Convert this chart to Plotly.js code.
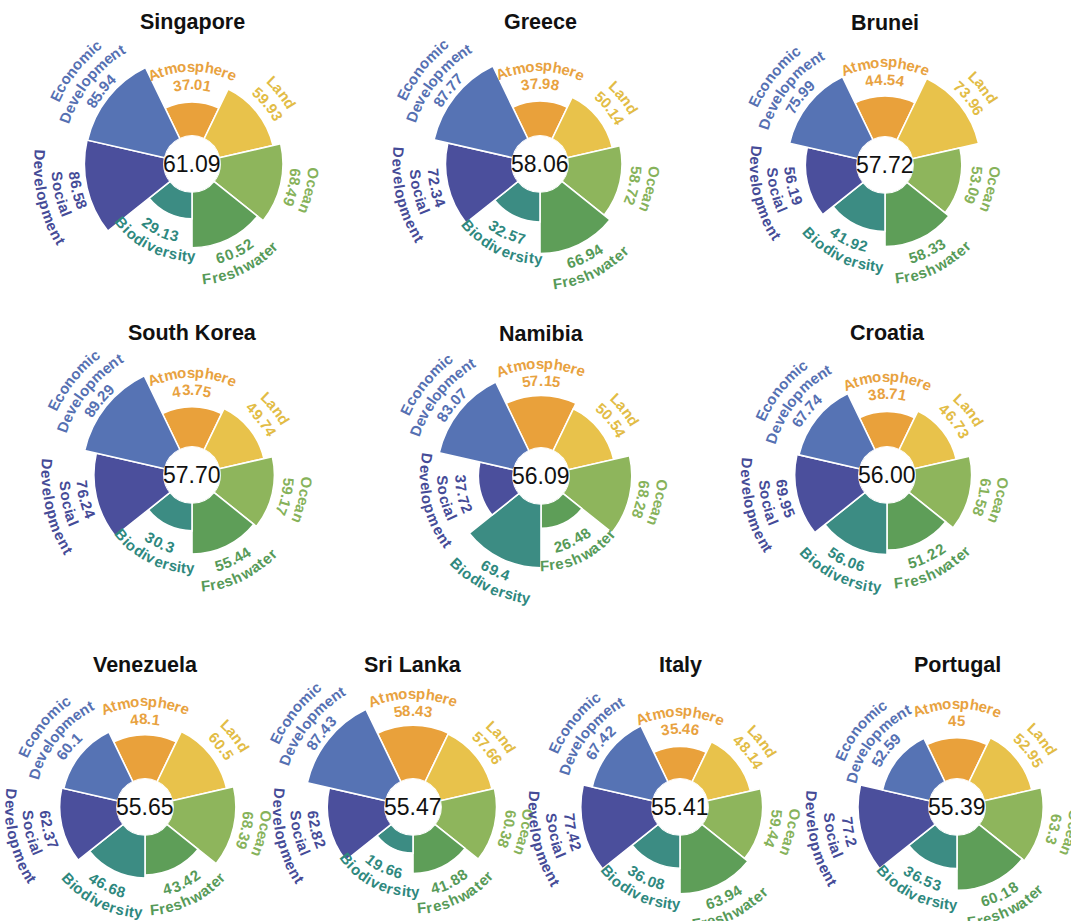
<!DOCTYPE html>
<html>
<head>
<meta charset="utf-8">
<script src="https://cdn.plot.ly/plotly-3.0.1.min.js"></script>
<style>html,body{margin:0;padding:0;background:#fff;}#chart{width:1071px;height:921px;}</style>
</head>
<body>
<div id="chart"></div>
<script>
// ---------------- data ----------------
const categories = ['Atmosphere', 'Land', 'Ocean', 'Freshwater', 'Biodiversity', 'Social Development', 'Economic Development'];
const countries = ['Singapore', 'Greece', 'Brunei', 'South Korea', 'Namibia', 'Croatia', 'Venezuela', 'Sri Lanka', 'Italy', 'Portugal'];
const scores = [61.09, 58.06, 57.72, 57.70, 56.09, 56.00, 55.65, 55.47, 55.41, 55.39];
const singapore  = [37.01, 59.93, 68.49, 60.52, 29.13, 86.58, 85.94];
const greece     = [37.98, 50.14, 58.72, 66.94, 32.57, 72.34, 87.77];
const brunei     = [44.54, 73.96, 53.09, 58.33, 41.92, 56.19, 75.99];
const southKorea = [43.75, 49.74, 59.17, 55.44, 30.3, 76.24, 89.29];
const namibia    = [57.15, 50.54, 68.28, 26.48, 69.4, 37.72, 83.07];
const croatia    = [38.71, 46.73, 61.58, 51.22, 56.06, 69.95, 67.74];
const venezuela  = [48.1, 60.5, 68.39, 43.42, 46.68, 62.37, 60.1];
const sriLanka   = [58.43, 57.66, 60.38, 41.88, 19.66, 62.82, 87.43];
const italy      = [35.46, 48.14, 59.44, 63.94, 36.08, 77.42, 67.42];
const portugal   = [45, 52.95, 63.3, 60.18, 36.53, 77.2, 52.59];
const seriesValues = [singapore, greece, brunei, southKorea, namibia, croatia, venezuela, sriLanka, italy, portugal];

// ---------------- styles ----------------
const barColors  = ['#E9A13B', '#E8C24B', '#8EB55C', '#5E9E58', '#3C8C83', '#4B4F9C', '#5673B4'];
const textColors = ['#E8A23F', '#E2BC45', '#86B25A', '#569A58', '#2E887E', '#454B97', '#5570B2'];
const W = 1071, H = 921;
const centers = [[192,164],[540,164],[885,165],[192,475],[541,476],[887,475],[145,807],[413,807],[680,807],[957,807]];
const RMAX = 90;          // radial axis range
const R_HOLE = 28;        // px
const PX_PER_UNIT = 0.92; // px per value unit
const R_OUT = R_HOLE + PX_PER_UNIT * RMAX;
const HOLE = R_HOLE / R_OUT;
const LABEL_SIZE = 15, SPACING = 1.04, LINE_H = 17.5;
const FONT_FAMILY = 'Liberation Sans, Arial, sans-serif';

const canvas = document.createElement('canvas');
const ctx = canvas.getContext('2d');
ctx.font = 'bold ' + LABEL_SIZE + "px 'Liberation Sans', Arial, sans-serif";

const data = [];
const layout = {
  width: W, height: H, margin: {l: 0, r: 0, t: 0, b: 0},
  paper_bgcolor: '#fff', showlegend: false, annotations: []
};

function toPaper(px, py) { return [px / W, 1 - py / H]; }

function addCurved(str, cx, cy, r, thetaDeg, flipped, color) {
  const chars = Array.from(str);
  const widths = chars.map(ch => ctx.measureText(ch).width * SPACING);
  const total = widths.reduce((a, b) => a + b, 0);
  const th = thetaDeg * Math.PI / 180;
  let cum = 0;
  chars.forEach((ch, i) => {
    const mid = cum + widths[i] / 2;
    cum += widths[i];
    if (ch === ' ') return;
    const off = (mid - total / 2) / r;
    const phi = flipped ? th + off : th - off;
    const px = cx + r * Math.cos(phi), py = cy - r * Math.sin(phi);
    let ang = (flipped ? -90 : 90) - phi * 180 / Math.PI;
    while (ang > 180) ang -= 360;
    while (ang <= -180) ang += 360;
    const p = toPaper(px, py);
    layout.annotations.push({
      xref: 'paper', yref: 'paper', x: p[0], y: p[1], text: ch, showarrow: false,
      textangle: ang, xanchor: 'center', yanchor: 'middle', borderpad: 0,
      font: {family: FONT_FAMILY, size: LABEL_SIZE, color: color, weight: 'bold'}
    });
  });
}

countries.forEach((country, k) => {
  const key = k === 0 ? 'polar' : 'polar' + (k + 1);
  const [cx, cy] = centers[k];
  const vals = seriesValues[k];
  data.push({
    type: 'barpolar', subplot: key, r: vals, theta: categories,
    marker: {color: barColors, line: {color: '#ffffff', width: 1.6}},
    hoverinfo: 'skip'
  });
  layout[key] = {
    domain: {x: [(cx - R_OUT) / W, (cx + R_OUT) / W], y: [1 - (cy + R_OUT) / H, 1 - (cy - R_OUT) / H]},
    hole: HOLE, bargap: 0, bgcolor: 'rgba(0,0,0,0)',
    radialaxis: {visible: false, range: [0, RMAX]},
    angularaxis: {visible: false, type: 'category', rotation: 90, direction: 'clockwise', categoryarray: categories}
  };
  // title
  const tp = toPaper(cx, cy - 142);
  layout.annotations.push({xref: 'paper', yref: 'paper', x: tp[0], y: tp[1], text: country, showarrow: false,
    xanchor: 'center', yanchor: 'middle', font: {family: FONT_FAMILY, size: 21.5, color: '#111', weight: 'bold'}});
  // centre score
  const cp = toPaper(cx, cy);
  layout.annotations.push({xref: 'paper', yref: 'paper', x: cp[0], y: cp[1], text: scores[k].toFixed(2), showarrow: false,
    xanchor: 'center', yanchor: 'middle', font: {family: FONT_FAMILY, size: 23, color: '#111'}});
  // curved category labels
  categories.forEach((cat, j) => {
    const theta = 90 - j * 360 / categories.length;
    let rot = 90 - theta;
    let flipped = false;
    while (rot > 120) { rot -= 180; flipped = !flipped; }
    while (rot <= -60) { rot += 180; flipped = !flipped; }
    const parts = cat.split(' ');
    const lines = [String(vals[j])].concat(flipped ? parts : parts.slice().reverse());
    const barTop = R_HOLE + PX_PER_UNIT * vals[j];
    const gap = 24 - 0.16 * vals[j];
    lines.forEach((ln, i) => addCurved(ln, cx, cy, barTop + gap + i * LINE_H, theta, flipped, textColors[j]));
  });
});

Plotly.newPlot('chart', data, layout, {staticPlot: true, displayModeBar: false});
</script>
</body>
</html>
